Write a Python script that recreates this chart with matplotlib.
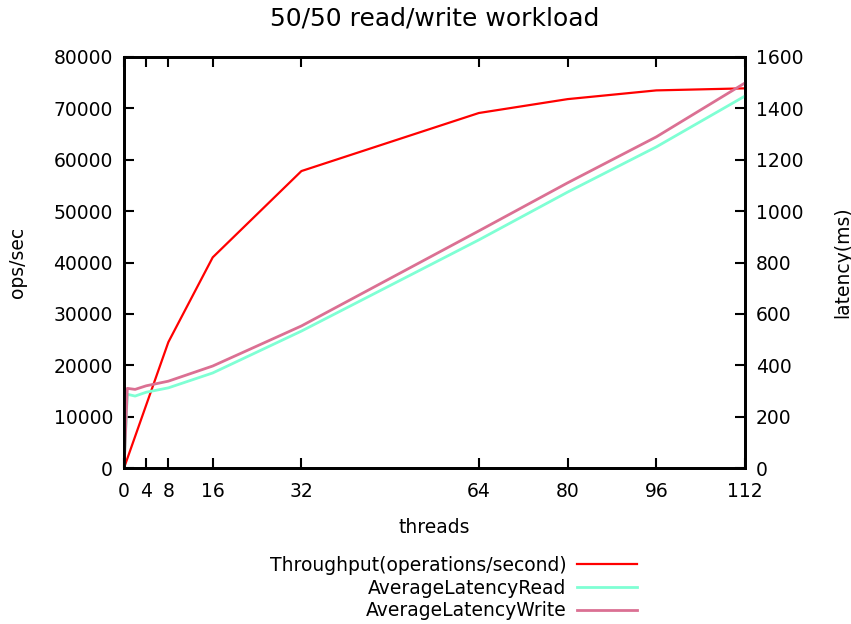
import matplotlib
matplotlib.use("Agg")
import matplotlib.pyplot as plt

threads_tp = [0, 8, 16, 32, 64, 80, 96, 112]
throughput = [0, 24500, 41000, 57800, 69100, 71800, 73500, 73900]

threads_lat = [0, 0.6, 2, 4, 8, 16, 32, 64, 80, 96, 112]
lat_read = [0, 287, 280, 295, 312, 370, 533, 888, 1074, 1250, 1448]
lat_write = [0, 310, 306, 320, 338, 397, 553, 923, 1110, 1289, 1499]

xticks = [0, 4, 8, 16, 32, 64, 80, 96, 112]

plt.rcParams['font.family'] = ['DejaVu Sans']
plt.rcParams['font.size'] = 13.5

fig = plt.figure(figsize=(8.51, 6.24), dpi=100)
ax = fig.add_axes([124 / 851, 1 - 468 / 624, 621 / 851, 411 / 624])
ax2 = ax.twinx()

l1, = ax.plot(threads_tp, throughput, color='#ff0000', lw=1.6,
              label='Throughput(operations/second)')
l2, = ax2.plot(threads_lat, lat_read, color='#7fffd4', lw=2,
               label='AverageLatencyRead')
l3, = ax2.plot(threads_lat, lat_write, color='#db7093', lw=2,
               label='AverageLatencyWrite')

ax.set_xlim(0, 112)
ax.set_ylim(0, 80000)
ax2.set_ylim(0, 1600)
ax.set_xticks(xticks)
ax.set_yticks(range(0, 80001, 10000))
ax2.set_yticks(range(0, 1601, 200))

for a in (ax, ax2):
    for s in a.spines.values():
        s.set_linewidth(2)
    a.tick_params(direction='in', length=7, width=1.5, labelsize=13.5)
ax.tick_params(axis='x', top=True, pad=10)
ax.tick_params(axis='y', pad=8)
ax2.tick_params(axis='y', pad=8)

ax.set_xlabel('threads', fontsize=13.5, labelpad=12)
ax.set_ylabel('ops/sec', fontsize=13.5, labelpad=19)
ax2.set_ylabel('latency(ms)', fontsize=13.5, labelpad=21)
ax.set_title('50/50 read/write workload', fontsize=18, pad=23)

leg = fig.legend(handles=[l1, l2, l3], loc='upper right',
                 bbox_to_anchor=(637 / 851, 1 - 556 / 624), frameon=False,
                 markerfirst=False, fontsize=13.5, handlelength=3.2,
                 handletextpad=0.55, labelspacing=0.2, borderpad=0,
                 borderaxespad=0, alignment='right')
for t in leg.get_texts():
    t.set_ha('right')

fig.savefig('out.png', dpi=100)
